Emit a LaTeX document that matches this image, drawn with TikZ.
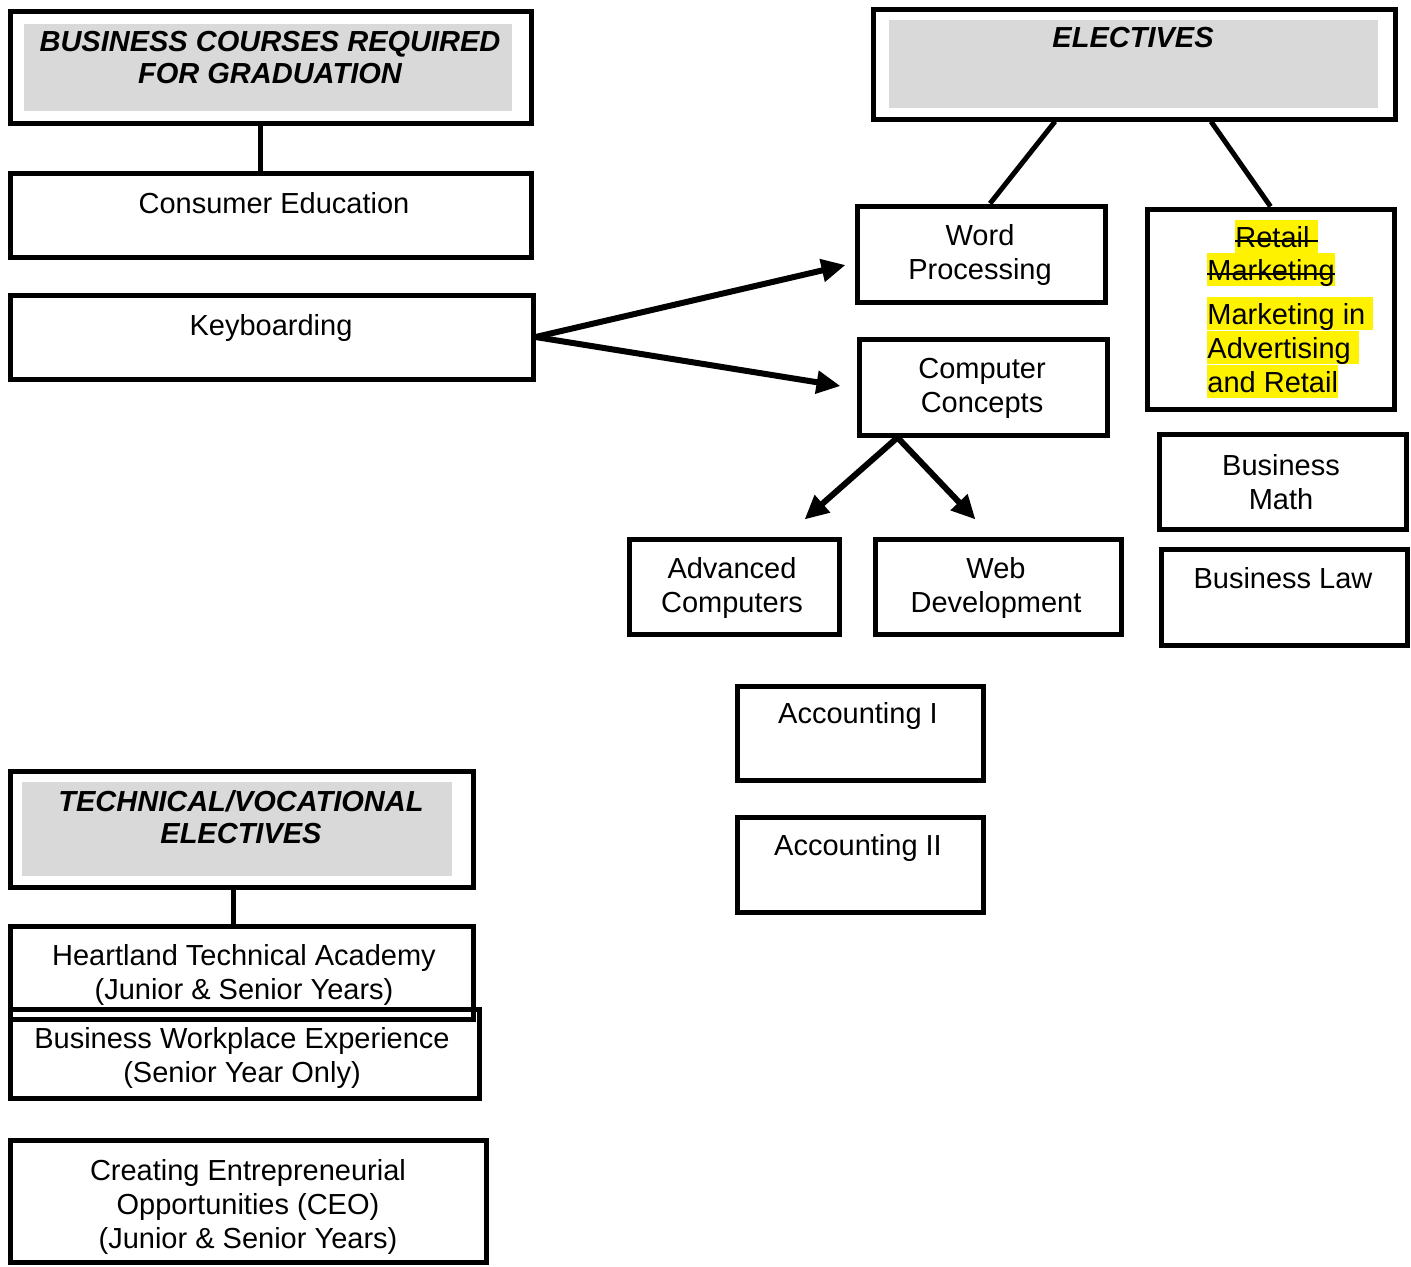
\documentclass[tikz,border=0pt]{standalone}
\usepackage{fontspec}
\setmainfont{Liberation Sans}
\usetikzlibrary{arrows.meta,fit,calc}

\tikzset{
  box/.style={draw,line width=2.5pt,inner sep=0pt},
  greyband/.style={fill=black!15,draw=none,inner sep=0pt},
  title/.style={font=\fontsize{14.5}{16}\selectfont\bfseries\itshape,align=center},
  txt/.style={align=center},
  link/.style={line width=2.5pt},
  flow/.style={line width=3pt,-{Triangle[length=12pt,width=11pt]}},
  hilite/.style={fill=yellow,inner sep=0pt,text height=14pt,text depth=2.8pt,anchor=base west},
  strike/.style={line width=1pt}
}

\begin{document}
\begin{tikzpicture}[x=0.5pt,y=-0.5pt,font=\fontsize{14.5}{17}\selectfont]
\useasboundingbox (0,0) rectangle (1411,1266);
% required courses
\node[greyband,fit={(24,24) (512,111)}] (reqbg) {};
\node[box,fit={(10,11) (531,123)}] (req) {};
\node[title] (reqt) at (270,58) {BUSINESS COURSES REQUIRED\\FOR GRADUATION};
\node[box,fit={(10,173) (531,257)}] (cons) {};
\node[txt] (const) at (274,203) {Consumer Education};
\node[box,fit={(10,295) (533,379)}] (keyb) {};
\node[txt] (keybt) at (271,328) {Keyboarding};
\draw[link] ([xshift=-5pt]req.south) -- ([xshift=-5pt]cons.north);

% electives
\node[greyband,fit={(889,20) (1378,108)}] (electbg) {};
\node[box,fit={(873,9) (1395,119)}] (elect) {};
\node[title] (electt) at (1133,38) {ELECTIVES};
\node[box,fit={(857,206) (1105,302)}] (wp) {};
\node[txt] (wpt) at (980,255) {Word\\Processing};
\node[box,fit={(1147,209) (1394,409)}] (retail) {};
\node[box,fit={(859,339) (1107,435)}] (cc) {};
\node[txt] (cct) at (982,388) {Computer\\Concepts};
\node[box,fit={(629,539) (839,634)}] (adv) {};
\node[txt] (advt) at (732,588) {Advanced\\Computers};
\node[box,fit={(875,539) (1121,634)}] (web) {};
\node[txt] (webt) at (996,588) {Web\\Development};
\node[box,fit={(1159,434) (1406,529)}] (bmath) {};
\node[txt] (bmatht) at (1281,482) {Business\\Math};
\node[box,fit={(1161,549) (1407,645)}] (blaw) {};
\node[txt] (blawt) at (1283,578) {Business Law};
\node[box,fit={(737,686) (983,780)}] (acc1) {};
\node[txt] (acc1t) at (858,716) {Accounting I};
\node[box,fit={(737,817) (983,912)}] (acc2) {};
\node[txt] (acc2t) at (858,848) {Accounting II};

% retail box, old and new name
\node[hilite] (ret1) at (1235,247.5) {Retail\kern4pt};
\node[hilite] (ret2) at (1207,280.5) {Marketing};
\node[hilite] (ret3) at (1207,324.5) {Marketing in\kern4pt};
\node[hilite] (ret4) at (1207,358.5) {Advertising\kern4pt};
\node[hilite] (ret5) at (1207,392.5) {and Retail};
\draw[strike] ([yshift=3.5pt]ret1.base west) -- ([yshift=3.5pt]ret1.base east);
\draw[strike] ([yshift=3.5pt]ret2.base west) -- ([yshift=3.5pt]ret2.base east);

\draw[link] ([xshift=-39.5pt]elect.south) -- ([xshift=4.5pt]wp.north);
\draw[link] ([xshift=38.5pt]elect.south) -- (retail.north);
\draw[flow] (keyb.east) -- ($(wp.west)+(-9,11)$);
\draw[flow] (keyb.east) -- ($(cc.west)+(-16,-1)$);
\coordinate (ccfoot) at ($(cc.south west)+(41,0)$);
\draw[flow] (ccfoot) -- ($(adv.north east)+(-37,-17)$);
\draw[flow] (ccfoot) -- ($(web.north west)+(103,-17)$);

% technical / vocational
\node[greyband,fit={(22,782) (452,876)}] (techbg) {};
\node[box,fit={(10,771) (473,887)}] (tech) {};
\node[title] (techt) at (241,817) {TECHNICAL/VOCATIONAL\\ELECTIVES};
\node[box,fit={(10,926) (473,1019)}] (heart) {};
\node[txt] (heartt) at (244,975) {Heartland Technical Academy\\(Junior \& Senior Years)};
\node[box,fit={(10,1009) (479,1098)}] (bwe) {};
\node[txt] (bwet) at (242,1058) {Business Workplace Experience\\(Senior Year Only)};
\node[box,fit={(10,1140) (486,1262)}] (ceo) {};
\node[txt] (ceot) at (248,1207) {Creating Entrepreneurial\\Opportunities (CEO)\\(Junior \& Senior Years)};
\draw[link] ([xshift=-4pt]tech.south) -- ([xshift=-4pt]heart.north);
\end{tikzpicture}
\end{document}
